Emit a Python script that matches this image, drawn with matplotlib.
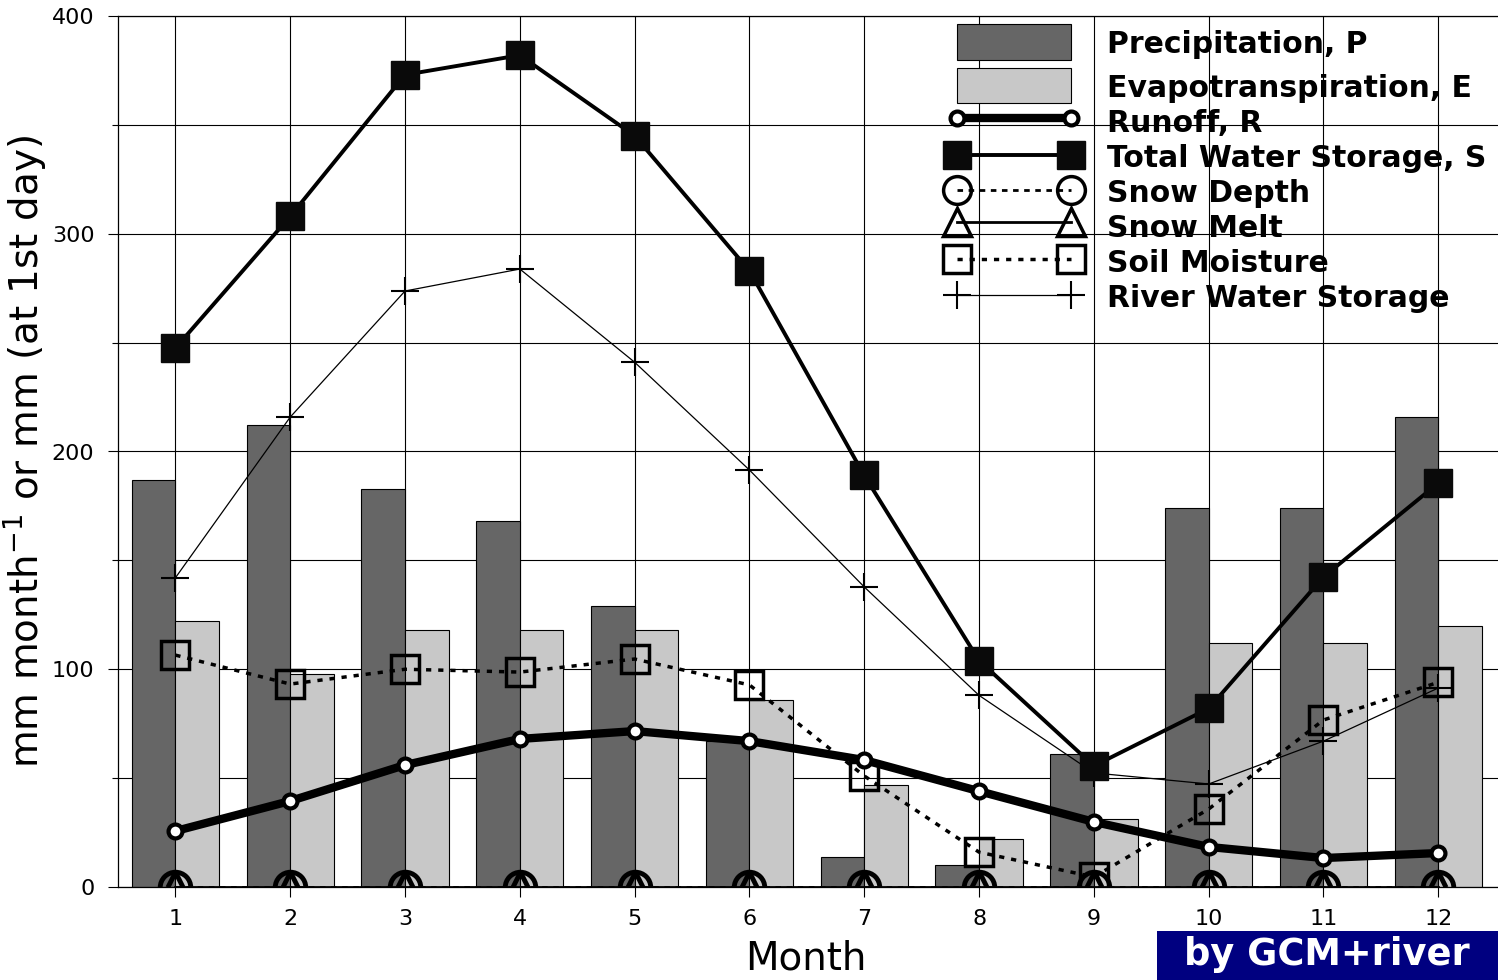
import numpy as np
import matplotlib
matplotlib.use("Agg")
import matplotlib.pyplot as plt
from matplotlib.patches import Rectangle
from matplotlib.path import Path

plt.rcParams['font.family'] = ['DejaVu Sans']

months = np.arange(1, 13)
precip = [187, 212, 183, 168, 129, 67, 14, 10, 61, 174, 174, 216]
evap = [122, 98, 118, 118, 118, 86, 47, 22, 31, 112, 112, 120]
runoff = [25.7, 39.5, 56, 68, 71.6, 67, 58.3, 44, 29.9, 18.4, 13.3, 15.6]
total_storage = [247.5, 308, 373, 382, 345, 283, 189, 104, 55.6, 82, 142.4, 185.5]
snow_depth = [0] * 12
snow_melt = [0] * 12
soil_moisture = [106.5, 93.2, 100, 98.7, 104.7, 92.8, 51, 16, 4.6, 35.8, 76.7, 94]
river_storage = [142, 215.8, 273.7, 283.8, 241, 191.5, 137.8, 88, 52.4, 47.3, 67, 91.4]

W, H = 1498, 980
fig = plt.figure(figsize=(W / 100, H / 100), dpi=100)
ax = fig.add_axes([118 / W, 1 - 887 / H, 1 - 118 / W, (887 - 16) / H])

dark = '#666666'
light = '#c8c8c8'
bw = 0.38

ax.bar(months - bw / 2, precip, width=bw, color=dark, edgecolor='black', linewidth=0.8, zorder=2)
ax.bar(months + bw / 2, evap, width=bw, color=light, edgecolor='black', linewidth=0.8, zorder=2)

# the values at zero only show their upper half above the axis
half_circle = Path.arc(0, 180)
half_tri = Path([(-0.5, 0), (0, 1), (0.5, 0)])

ax.plot(months, snow_depth, color='black', ls=(0, (2, 2)), lw=2, marker=half_circle, ms=22,
        mfc='none', mec='black', mew=3.5, zorder=3)
ax.plot(months, snow_melt, color='black', lw=2, marker=half_tri, ms=22,
        mfc='none', mec='black', mew=3.5, zorder=3)
ax.plot(months, river_storage, color='black', lw=0.9, marker='+', ms=20, mew=1.5, zorder=3)
ax.plot(months, soil_moisture, color='black', ls=(0, (1.5, 2)), lw=2.5, marker='s', ms=20,
        mfc='none', mec='black', mew=2.5, zorder=4)
ax.plot(months, runoff, color='black', lw=6, marker='o', ms=10, mfc='white', mec='black',
        mew=3, zorder=5)
ax.plot(months, total_storage, color='black', lw=2.8, marker='s', ms=20, mfc='#0a0a0a',
        mec='#0a0a0a', zorder=6)

ax.set_xlim(0.5, 12.52)
ax.set_ylim(0, 400)
ax.set_xticks(months)
ax.set_yticks(np.arange(0, 401, 100))
ax.set_yticks(np.arange(50, 400, 100), minor=True)
ax.grid(True, which='both', color='black', lw=0.8)
ax.set_axisbelow(True)
ax.tick_params(axis='both', which='major', direction='out', length=7, width=0.8, labelsize=16)
ax.tick_params(axis='y', which='major', pad=10)
ax.tick_params(axis='x', which='major', pad=9)
ax.tick_params(axis='y', which='minor', direction='out', length=4, width=0.8)
ax.spines['right'].set_visible(False)
for s in ['left', 'top', 'bottom']:
    ax.spines[s].set_linewidth(0.9)

fig.text(25 / W, 1 - 452 / H, r'mm month$^{-1}$ or mm (at 1st day)', rotation=90,
         ha='center', va='center', fontsize=28)
fig.text(806 / W, 1 - 969 / H, 'Month', ha='center', va='baseline', fontsize=28)

# manual legend (pixel positions)
def fp(x, y):
    return x / W, 1 - y / H

tf = fig.transFigure
xa, xb = 957, 1071
for y0, y1, c in [(24, 60, dark), (68, 103, light)]:
    fig.patches.append(Rectangle(fp(xa, y1), (xb - xa) / W, (y1 - y0) / H, transform=tf,
                                 facecolor=c, edgecolor='black', lw=0.8, zorder=7))

def leg_line(y, **kw):
    x0, yy = fp(xa, y)
    x1, _ = fp(xb, y)
    ln = plt.Line2D([x0, x1], [yy, yy], transform=tf, **kw)
    fig.lines.append(ln)

leg_line(118, color='black', lw=6, marker='o', ms=10, mfc='white', mec='black', mew=3)
leg_line(155, color='black', lw=2.8, marker='s', ms=20, mfc='#0a0a0a', mec='#0a0a0a')
leg_line(190, color='black', ls=(0, (2, 2)), lw=2, marker='o', ms=20, mfc='none', mec='black', mew=2.5)
leg_line(222, color='black', lw=2, marker='^', ms=20, mfc='none', mec='black', mew=2.5)
leg_line(259, color='black', ls=(0, (1.5, 2)), lw=2.5, marker='s', ms=20, mfc='none', mec='black', mew=2.5)
leg_line(295, color='black', lw=0.9, marker='+', ms=20, mew=1.5)

labels = ['Precipitation, P', 'Evapotranspiration, E', 'Runoff, R', 'Total Water Storage, S',
          'Snow Depth', 'Snow Melt', 'Soil Moisture', 'River Water Storage']
baselines = [53, 97, 132, 167, 202, 237, 272, 307]
for lab, b in zip(labels, baselines):
    fig.text(*fp(1107, b), lab, fontsize=21.5, fontweight='bold', va='baseline', ha='left')

# badge
fig.patches.append(Rectangle(fp(1157, 980), (W - 1157) / W, 49 / H, transform=tf,
                             facecolor='#000080', edgecolor='none'))
fig.text(*fp(1327, 965), 'by GCM+river', color='white', fontsize=26.5, fontweight='bold',
         ha='center', va='baseline')

fig.savefig('out.png', dpi=100)
